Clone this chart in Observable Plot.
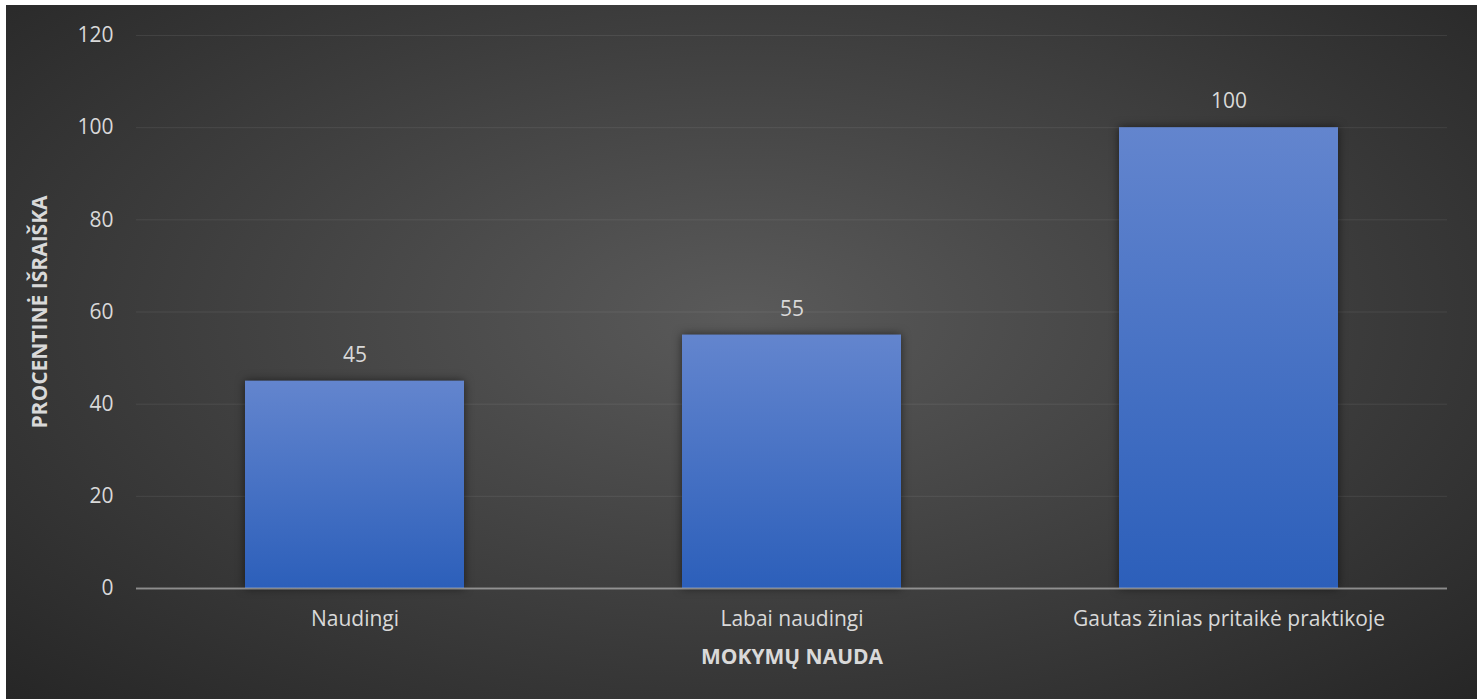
<!DOCTYPE html>
<html><head><meta charset="utf-8">
<script src="https://cdn.jsdelivr.net/npm/d3@7"></script>
<script src="https://cdn.jsdelivr.net/npm/@observablehq/plot@0.6"></script>
<style>
body{margin:0;background:#fff;}
#chart{position:absolute;left:6px;top:5px;width:1471px;height:694px;background:radial-gradient(ellipse farthest-corner at 50% 45%, #5a5a5a 0%, #262626 100%);}
</style></head><body><div id="chart"></div>
<script>
const categories = ["Naudingi", "Labai naudingi", "Gautas žinias pritaikė praktikoje"];
const values = [45, 55, 100];
const yTicks = [0, 20, 40, 60, 80, 100, 120];
const xTitle = "MOKYMŲ NAUDA";
const yTitle = "PROCENTINĖ IŠRAIŠKA";

const data = categories.map((c, i) => ({cat: c, value: values[i]}));
const FS = 21;

const chart = Plot.plot({
  width: 1471, height: 694,
  marginLeft: 130, marginRight: 30, marginTop: 30, marginBottom: 111,
  style: {background: "transparent", fontFamily: "'Open Sans', sans-serif", fontSize: FS + "px", color: "#d9d9d9"},
  x: {domain: categories, paddingInner: 0.5, paddingOuter: 0.25, label: null},
  y: {domain: [0, 120], label: null},
  marks: [
    Plot.gridY(yTicks, {stroke: "#fff", strokeOpacity: 0.08, strokeWidth: 1}),
    Plot.barY(data, {x: "cat", y: "value", fill: "url(#barGrad)"}),
    Plot.ruleY([0], {stroke: "#bfbfbf", strokeOpacity: 0.6, strokeWidth: 2}),
    Plot.text(data, {x: "cat", y: "value", text: d => String(d.value), dy: -26, fill: "#d9d9d9", fontSize: FS}),
    Plot.axisY(yTicks, {tickSize: 0, tickPadding: 23, fill: "#d9d9d9", fontSize: FS, label: null}),
    Plot.axisX({tickSize: 0, tickPadding: 23, fill: "#d9d9d9", fontSize: FS, label: null}),
    Plot.text([xTitle], {text: d => d, frameAnchor: "bottom", lineAnchor: "middle", dy: 69, fontWeight: "bold", fill: "#d9d9d9", fontSize: FS}),
    Plot.text([yTitle], {text: d => d, frameAnchor: "left", textAnchor: "middle", dx: -96, rotate: -90, fontWeight: "bold", fill: "#d9d9d9", fontSize: FS})
  ]
});

d3.select(chart).insert("defs", ":first-child").html(
  '<linearGradient id="barGrad" x1="0" y1="0" x2="0" y2="1">' +
  '<stop offset="0" stop-color="#6385ce"/><stop offset="1" stop-color="#2c5fba"/></linearGradient>'
);
d3.select(chart).selectAll('g[aria-label="bar"] rect').style("filter", "drop-shadow(0 0 5px rgba(0,0,0,0.55))");

document.getElementById("chart").appendChild(chart);
</script>
</body></html>
